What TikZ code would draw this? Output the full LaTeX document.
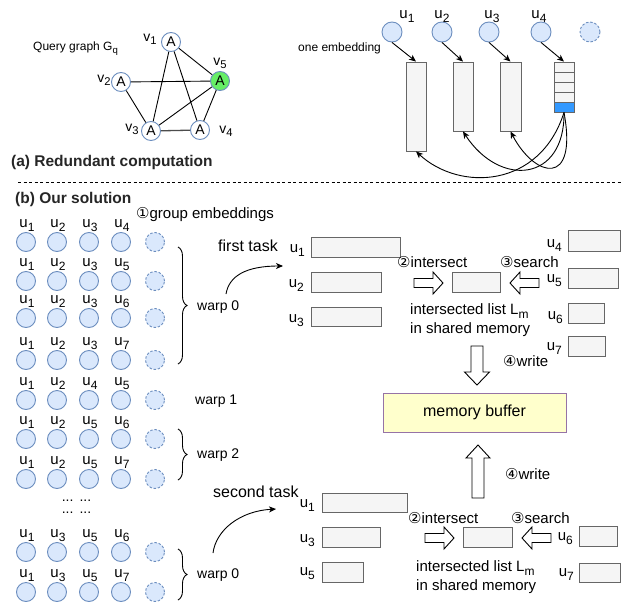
\documentclass[tikz,border=0pt]{standalone}
\usepackage{fontspec}
\setmainfont{Liberation Sans}
\newfontfamily\circfont{DejaVu Sans}
\usetikzlibrary{arrows.meta,decorations.pathreplacing}

\definecolor{embfill}{HTML}{DAE8FC}
\definecolor{embline}{HTML}{6C8EBF}
\definecolor{lstfill}{HTML}{F5F5F5}
\definecolor{lstline}{HTML}{666666}
\definecolor{bufline}{HTML}{9673A6}
\definecolor{buffill}{HTML}{FFFFCC}
\definecolor{hitgreen}{HTML}{66EE66}
\definecolor{cellblue}{HTML}{3399FF}

% lowered, smaller index as in u1, v2, G_q
\newcommand\sbs[1]{\raisebox{-0.28em}{\scalebox{0.8}{#1}}}
% circled step numbers
\newcommand\cnum[1]{{\circfont #1}}
% list box given by its corners
\newcommand\lbox[6][]{\node[lst,#1,minimum width={(#5-#3)*1pt},minimum height={(#6-#4)*1pt}] (#2) at ({(#3+#5)/2},{(#4+#6)/2}) {};}

\begin{document}
\begin{tikzpicture}[x=1pt,y=-1pt,
  txt/.style={inner sep=0pt, font=\fontsize{15}{17}\selectfont},
  wtxt/.style={inner sep=0pt, font=\fontsize{14}{16}\selectfont},
  ttxt/.style={inner sep=0pt, font=\fontsize{16}{18}\selectfont},
  small/.style={inner sep=0pt, font=\fontsize{12}{14}\selectfont},
  vtxt/.style={inner sep=0pt, font=\fontsize{14}{16}\selectfont},
  title/.style={inner sep=0pt, font=\fontsize{15.5}{18}\selectfont\bfseries, text=black!85},
  qv/.style={circle, draw=embline, fill=white, line width=0.9pt, minimum size=19pt, inner sep=0pt, font=\fontsize{14}{16}\selectfont},
  emb/.style={circle, draw=embline, fill=embfill, line width=0.9pt, minimum size=19pt, inner sep=0pt},
  embx/.style={emb, dash pattern=on 2.5pt off 1.8pt},
  lst/.style={rectangle, draw=lstline, fill=lstfill, line width=0.9pt, inner sep=0pt},
  conn/.style={line width=0.9pt},
  arr/.style={conn, -{Stealth[length=7pt,width=6pt,inset=2pt]}},
  fat/.style={draw=black, fill=white, line width=0.9pt, line join=miter},
  brc/.style={decorate, decoration={brace, amplitude=9pt}, line width=0.9pt},
  pics/fatarrow/.style n args={4}{code={
     \path[fat] (0,-#2) -- ({#1-#4},-#2) -- ({#1-#4},-#3) -- (#1,0) -- ({#1-#4},#3) -- ({#1-#4},#2) -- (0,#2) -- cycle;}}
]
\useasboundingbox (0,0) rectangle (621,605);
\fill[white] (0,0) rectangle (621,605);

% ---------- (a) query graph ----------
\node[small, anchor=base west] (qlabel) at (33,50) {Query graph G\sbs{q}};
\node[qv] (v1) at (171,42) {A};
\node[qv] (v2) at (121,82) {A};
\node[qv, fill=hitgreen] (v5) at (220,81) {A};
\node[qv] (v3) at (151,131) {A};
\node[qv] (v4) at (200,130) {A};
\draw[conn] (v1) -- (v5) (v1) -- (v3) (v1) -- (v4) (v2) -- (v5) (v2) -- (v3)
            (v3) -- (v5) (v4) -- (v5);
\draw[line width=1.3pt, draw=black!70] (v3) -- (v4);
\node[vtxt, anchor=base] (v1l) at (150,41) {v\sbs{1}};
\node[vtxt, anchor=base] (v2l) at (104,82) {v\sbs{2}};
\node[vtxt, anchor=base] (v5l) at (220,65) {v\sbs{5}};
\node[vtxt, anchor=base] (v3l) at (132,131) {v\sbs{3}};
\node[vtxt, anchor=base] (v4l) at (226,133) {v\sbs{4}};

\node[title, anchor=base west] (ta) at (11,166) {(a) Redundant computation};

% ---------- (a) one embedding ----------
\node[small, anchor=base west] (oneemb) at (298,51) {one embedding};
\node[emb, minimum size=20pt] (e1) at (392,32) {};
\node[emb, minimum size=20pt] (e2) at (442,32) {};
\node[emb, minimum size=20pt] (e3) at (489,32) {};
\node[emb, minimum size=20pt] (e4) at (541,32) {};
\node[embx, minimum size=20pt] (e5) at (590,32) {};
\node[txt, anchor=base] (e1l) at (407,18) {u\sbs{1}};
\node[txt, anchor=base] (e2l) at (442,18) {u\sbs{2}};
\node[txt, anchor=base] (e3l) at (492,18) {u\sbs{3}};
\node[txt, anchor=base] (e4l) at (539,18) {u\sbs{4}};

\lbox{r1}{406}{62}{426}{151}
\lbox{r2}{453}{62}{473}{131}
\lbox{r3}{500}{62}{521}{131}
\lbox{r4a}{554}{62}{574}{72}
\lbox{r4b}{554}{72}{574}{82}
\lbox{r4c}{554}{82}{574}{92}
\lbox{r4d}{554}{92}{574}{102}
\lbox[fill=cellblue, draw=lstline]{r4e}{554}{102}{574}{112}

\draw[arr] (e1.south) -- (r1.north);
\draw[arr] (e2.south) -- (r2.north);
\draw[arr] (e3.south) -- (r3.north);
\draw[arr] (e4.south) -- (r4a.north);

\draw[arr] (r4e.south) .. controls (540,188) and (460,192) .. (r1.south);
\draw[arr] (r4e.south) .. controls (565,182) and (500,188) .. (r2.south);
\draw[arr] (r4e.south) .. controls (578,188) and (535,178) .. (r3.south);

% ---------- separator ----------
\coordinate (sepL) at (18,182);
\coordinate (sepR) at (621,182);
\draw[dash pattern=on 3pt off 2.5pt, line width=0.8pt] (sepL) -- (sepR);

% ---------- (b) embeddings grouped into warps ----------
\node[title, anchor=base west] (tb) at (15,203) {(b) Our solution};
\node[txt, anchor=base west] (step1) at (136,218) {\cnum{①}group embeddings};

\foreach \r/\yy/\la/\lb/\lc/\ld in {1/242/1/2/3/4, 2/281/1/2/3/5, 3/318/1/2/3/6, 4/360/1/2/3/7,
    5/400/1/2/4/5, 6/439/1/2/5/6, 7/479/1/2/5/7, 8/552/1/3/5/6, 9/592/1/3/5/7}{
  \foreach \k/\xx/\lab in {1/26/\la, 2/57/\lb, 3/89/\lc, 4/121/\ld}{
    \node[emb] (r\r c\k) at (\xx,\yy) {};
    \node[txt, anchor=base] (r\r l\k) at (\xx+1,\yy-15) {u\sbs{\lab}};
  }
  \node[embx] (r\r c5) at (155,\yy) {};
}

% omitted rows
\node[inner sep=0pt, align=center, font=\fontsize{14}{12}\selectfont, anchor=base] (dots)
  at (76.5,513) {...\hspace{6pt}...\\...\hspace{6pt}...};

\draw[brc] (178,247) -- (178,364);
\draw[brc] (178,429) -- (178,480);
\draw[brc] (178,549) -- (178,600);
\node[wtxt, anchor=base west] (w0a) at (197,310) {warp 0};
\node[wtxt, anchor=base west] (w1) at (195,404) {warp 1};
\node[wtxt, anchor=base west] (w2) at (197,458) {warp 2};
\node[wtxt, anchor=base west] (w0b) at (197,578) {warp 0};

% ---------- task arrows ----------
\node[ttxt, anchor=base west] (task1) at (218,251) {first task};
\coordinate (t1s) at (226,294);
\coordinate (t1e) at (283,266);
\draw[arr] (t1s) .. controls (229,276) and (246,266) .. (t1e);

\node[ttxt, anchor=base west] (task2) at (213,497) {second task};
\coordinate (t2s) at (213,553);
\coordinate (t2e) at (276,509);
\draw[arr] (t2s) .. controls (216,530) and (240,511) .. (t2e);

% ---------- first task: lists ----------
\lbox{fa1}{311}{237}{400}{257}
\lbox{fa2}{311}{272}{381}{292}
\lbox{fa3}{311}{307}{381}{326}
\node[txt, anchor=base east] (fa1l) at (305,252) {u\sbs{1}};
\node[txt, anchor=base east] (fa2l) at (304,287) {u\sbs{2}};
\node[txt, anchor=base east] (fa3l) at (304,322) {u\sbs{3}};

\lbox{fm}{452}{272}{500}{292}
\node[txt, anchor=base west] (fint) at (397,267) {\cnum{②}intersect};
\node[txt, anchor=base west] (fsea) at (500,267) {\cnum{③}search};
\pic at (414,283) {fatarrow={29}{4.5}{11}{10}};
\pic[rotate=180] at (539,283) {fatarrow={29}{4.5}{11}{10}};
\node[txt, anchor=base west] (flm) at (410,314) {intersected list L\sbs{m}};
\node[txt, anchor=base west] (fsh) at (410,333) {in shared memory};

\lbox{fb4}{568}{230}{620}{251}
\lbox{fb5}{568}{268}{618}{288}
\lbox{fb6}{568}{303}{604}{323}
\lbox{fb7}{568}{336}{605}{356}
\node[txt, anchor=base east] (fb4l) at (562,247) {u\sbs{4}};
\node[txt, anchor=base east] (fb5l) at (562,282) {u\sbs{5}};
\node[txt, anchor=base east] (fb6l) at (563,319) {u\sbs{6}};
\node[txt, anchor=base east] (fb7l) at (562,350) {u\sbs{7}};

\pic[rotate=-90] at (477,346) {fatarrow={39}{6}{12.5}{13}};
\node[txt, anchor=base west] (fwr) at (503,366) {\cnum{④}write};

% ---------- memory buffer ----------
\node[draw=bufline, fill=buffill, line width=0.9pt, minimum width=183pt, minimum height=39pt,
      inner sep=0pt, font=\fontsize{16}{18}\selectfont] (buf) at (474.5,412.5) {memory buffer};

\pic[rotate=90] at (478,498) {fatarrow={53}{6}{12}{13}};
\node[txt, anchor=base west] (swr) at (505,479) {\cnum{④}write};

% ---------- second task: lists ----------
\lbox{sa1}{322}{493}{407}{512}
\lbox{sa3}{322}{527}{380}{547}
\lbox{sa5}{322}{562}{363}{582}
\node[txt, anchor=base east] (sa1l) at (315,507) {u\sbs{1}};
\node[txt, anchor=base east] (sa3l) at (315,542) {u\sbs{3}};
\node[txt, anchor=base east] (sa5l) at (315,575) {u\sbs{5}};

\lbox{sm}{463}{527}{512}{547}
\node[txt, anchor=base west] (sint) at (408,523) {\cnum{②}intersect};
\node[txt, anchor=base west] (ssea) at (511,523) {\cnum{③}search};
\pic at (425,538) {fatarrow={29}{4.5}{11}{10}};
\pic[rotate=180] at (551,538) {fatarrow={29}{4.5}{11}{10}};
\node[txt, anchor=base west] (slm) at (416,571) {intersected list L\sbs{m}};
\node[txt, anchor=base west] (ssh) at (416,590) {in shared memory};

\lbox{sb6}{579}{526}{617}{546}
\lbox{sb7}{579}{563}{620}{582}
\node[txt, anchor=base east] (sb6l) at (573,540) {u\sbs{6}};
\node[txt, anchor=base east] (sb7l) at (574,576) {u\sbs{7}};
\end{tikzpicture}
\end{document}
